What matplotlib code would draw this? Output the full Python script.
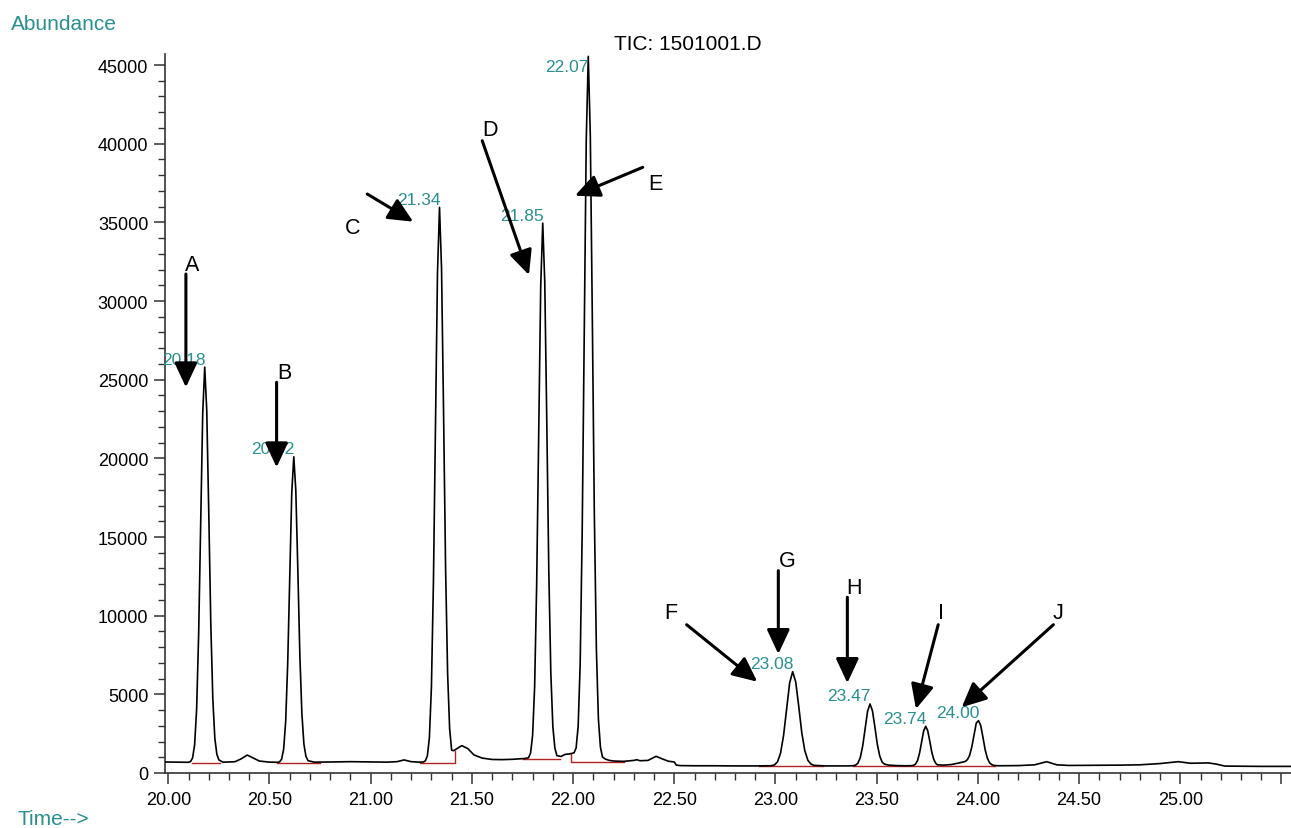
import matplotlib
matplotlib.use("Agg")
import matplotlib.pyplot as plt
from matplotlib.ticker import MultipleLocator, FixedLocator, FixedFormatter

plt.rcParams['font.family'] = ['Liberation Sans', 'DejaVu Sans']

# ---------------- data ----------------
time_min = [
    19.98, 20.05, 20.10,
    20.11, 20.12, 20.13, 20.14, 20.15, 20.16, 20.17, 20.18, 20.19, 20.20, 20.21, 20.22, 20.23, 20.24, 20.25,
    20.27, 20.30, 20.33, 20.36, 20.39, 20.42, 20.45, 20.50, 20.54,
    20.55, 20.56, 20.57, 20.58, 20.59, 20.60, 20.61, 20.62, 20.63, 20.64, 20.65, 20.66, 20.67, 20.68, 20.69,
    20.72, 20.80, 20.90, 21.00, 21.08, 21.13, 21.165, 21.20, 21.24, 21.26,
    21.27, 21.28, 21.29, 21.30, 21.31, 21.32, 21.33, 21.34, 21.35, 21.36, 21.37, 21.38, 21.39, 21.40,
    21.41, 21.42, 21.45, 21.48, 21.51, 21.55, 21.60, 21.65, 21.70, 21.74, 21.76,
    21.78, 21.79, 21.80, 21.81, 21.82, 21.83, 21.84, 21.85, 21.86, 21.87, 21.88, 21.89, 21.90, 21.91, 21.92,
    21.94, 21.96, 21.98, 21.995,
    22.005, 22.015, 22.025, 22.035, 22.045, 22.055, 22.065, 22.075, 22.085, 22.095, 22.105, 22.115, 22.125,
    22.135, 22.145, 22.16, 22.18, 22.20, 22.25, 22.30, 22.315, 22.33, 22.37, 22.41, 22.44, 22.47, 22.50,
    22.51, 22.53, 22.60, 22.70, 22.80, 22.90, 22.96,
    22.98, 22.995, 23.01, 23.025, 23.04, 23.055, 23.07, 23.085, 23.10, 23.115, 23.13, 23.145, 23.16, 23.175, 23.19,
    23.25, 23.35, 23.38,
    23.395, 23.407, 23.419, 23.431, 23.443, 23.455, 23.467, 23.479, 23.491, 23.503, 23.515, 23.527, 23.539,
    23.56, 23.60, 23.64,
    23.672, 23.682, 23.692, 23.702, 23.712, 23.722, 23.732, 23.742, 23.752, 23.762, 23.772, 23.782, 23.792, 23.80,
    23.83, 23.87, 23.90,
    23.937, 23.948, 23.959, 23.970, 23.981, 23.992, 24.003, 24.014, 24.025, 24.036, 24.047, 24.058, 24.069, 24.08,
    24.10, 24.20, 24.28, 24.34, 24.39, 24.45, 24.60, 24.70, 24.80, 24.90, 24.99, 25.05, 25.10, 25.14, 25.18,
    25.22, 25.30, 25.40, 25.55,
]
abundance = [
    700, 690, 680,
    730, 956, 1785, 4071, 8844, 15928, 22836, 25800, 23037, 16506, 9472, 4699, 2187, 1182, 831,
    690, 700, 720, 900, 1140, 950, 760, 690, 680,
    709, 884, 1525, 3293, 6985, 12464, 17807, 20100, 17963, 12911, 7471, 3779, 1836, 1059, 787,
    690, 700, 720, 700, 690, 720, 830, 720, 690, 700,
    771, 1088, 2251, 5459, 12156, 22097, 31791, 35950, 32073, 22908, 13038, 6340, 2815, 1450,
    1420, 1500, 1740, 1550, 1150, 950, 860, 850, 870, 900, 920,
    968, 1275, 2398, 5497, 11966, 21568, 30932, 34950, 31205, 22352, 12818, 6348, 2943, 1581, 1104,
    1050, 1180, 1210, 1250,
    1290, 1600, 2967, 6935, 15400, 27950, 40230, 45550, 40560, 28930, 16410, 7910, 3440,
    1650, 1020, 880, 800, 760, 740, 800, 845, 780, 800, 1060, 900, 750, 700,
    500, 470, 460, 460, 450, 450, 460,
    462, 516, 714, 1259, 2397, 4086, 5733, 6440, 5781, 4224, 2547, 1408, 809, 570, 486,
    450, 450, 460,
    493, 623, 982, 1731, 2842, 3925, 4390, 3957, 2932, 1829, 1080, 686, 560,
    500, 470, 460,
    465, 488, 570, 799, 1276, 1984, 2674, 2970, 2694, 2041, 1339, 862, 611, 520,
    500, 540, 620,
    730, 846, 1116, 1660, 2436, 3173, 3330, 3015, 2272, 1471, 928, 642, 527, 480,
    460, 470, 520, 720, 520, 480, 490, 500, 520, 600, 720, 620, 630, 640, 560,
    440, 430, 420, 420,
]

peak_times = [20.18, 20.62, 21.34, 21.85, 22.07, 23.08, 23.47, 23.74, 24.00]
peak_apex_time = [20.18, 20.62, 21.34, 21.85, 22.075, 23.085, 23.467, 23.742, 24.003]
peak_height = [25800, 20100, 35950, 34950, 45550, 6440, 4390, 2970, 3330]

# integration baselines (time list, abundance list) per peak group
base_t = [
    [20.116, 20.255],
    [20.535, 20.75],
    [21.244, 21.417, 21.417],
    [21.754, 21.935],
    [21.988, 21.988, 22.25],
    [22.92, 23.236],
    [23.385, 24.084],
]
base_y = [
    [650, 650],
    [630, 630],
    [660, 660, 1418],
    [920, 920],
    [1207, 720, 720],
    [430, 430],
    [460, 460],
]

marker_letters = ['A', 'B', 'C', 'D', 'E', 'F', 'G', 'H', 'I', 'J']

# ---------------- layout (annotation placement) ----------------
letter_pos = [(20.12, 32352), (20.573, 25468), (20.911, 34685), (21.589, 40889), (22.405, 37481),
              (22.482, 10170), (23.057, 13538), (23.389, 11803), (23.818, 10170), (24.398, 10170)]
arrow_tail = [(20.087, 31716), (20.535, 24833), (20.983, 36801), (21.551, 40189), (22.344, 38498),
              (22.561, 9426), (23.014, 12858), (23.355, 11168), (23.804, 9426), (24.373, 9426)]
arrow_tip = [(20.087, 24515), (20.535, 19430), (21.210, 35041), (21.782, 31653), (22.009, 36693),
             (22.910, 5803), (23.014, 7564), (23.355, 5720), (23.694, 4068), (23.920, 4176)]

TEAL = '#2a8f8f'
W, H = 1291, 829
fig = plt.figure(figsize=(W / 100, H / 100), dpi=100)
ax = fig.add_axes([165 / W, (H - 774) / H, 1 - 165 / W, (774 - 55) / H])

ax.plot(time_min, abundance, color='black', lw=1.2, zorder=3)
for bt, by in zip(base_t, base_y):
    ax.plot(bt, by, color='#b22222', lw=1.0, zorder=2)

ax.set_xlim(19.9837, 25.547)
ax.set_ylim(0, 45700)

for s in ['top', 'right']:
    ax.spines[s].set_visible(False)
for s in ['left', 'bottom']:
    ax.spines[s].set_color('#333333')
    ax.spines[s].set_linewidth(1.2)

xt = [20.0 + 0.5 * i for i in range(12)]
ax.xaxis.set_major_locator(FixedLocator(xt))
ax.xaxis.set_major_formatter(FixedFormatter([f"{v:.2f}" for v in xt[:-1]] + ['']))
ax.xaxis.set_minor_locator(MultipleLocator(0.1))
ax.yaxis.set_major_locator(MultipleLocator(5000))
ax.yaxis.set_minor_locator(MultipleLocator(1000))
ax.tick_params(axis='both', which='major', length=8, width=1.1, color='#333333', labelsize=13,
               direction='out')
ax.tick_params(axis='both', which='minor', length=5, width=1.0, color='#333333', direction='out')
ax.tick_params(axis='x', which='major', pad=5)
ax.tick_params(axis='y', which='major', pad=4)

# peak retention-time labels
for pt, at, ph in zip(peak_times, peak_apex_time, peak_height):
    y = min(ph, 44400)
    ax.annotate(f"{pt:.2f}", xy=(at, y), xytext=(0.5, 2.5), textcoords='offset points',
                ha='right', va='baseline', fontsize=12.5, color=TEAL, zorder=4)

# letters and arrows
for lab, lp, tail, tip in zip(marker_letters, letter_pos, arrow_tail, arrow_tip):
    ax.text(lp[0], lp[1], lab, ha='center', va='center', fontsize=15.5, color='black', zorder=5)
    ax.annotate('', xy=tip, xytext=tail,
                arrowprops=dict(arrowstyle='-|>,head_length=15,head_width=7', mutation_scale=1,
                                lw=2.2, color='black', shrinkA=0, shrinkB=0), zorder=5)

fig.text(10.7 / W, 1 - 24 / H, 'Abundance', ha='left', va='center', fontsize=15, color=TEAL)
fig.text(18 / W, 1 - 820 / H, 'Time-->', ha='left', va='center', fontsize=15, color=TEAL)
fig.text(688 / W, 1 - 45 / H, 'TIC: 1501001.D', ha='center', va='center', fontsize=15, color='black')

fig.savefig('out.png', dpi=100)
